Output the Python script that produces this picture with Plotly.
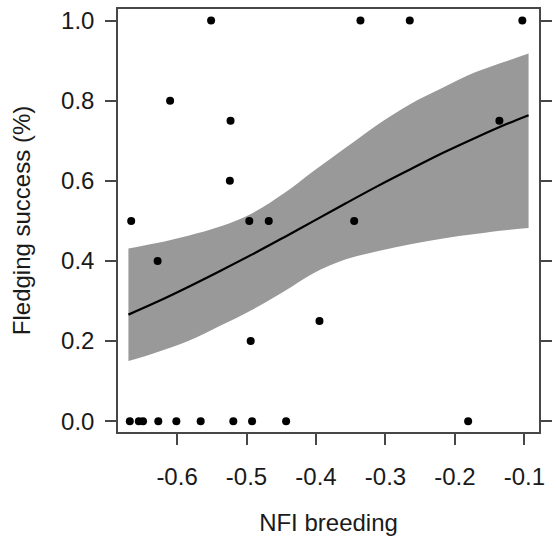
import plotly.graph_objects as go

# Observed data points
pt_x = [-0.551, -0.336, -0.265, -0.103,
        -0.610,
        -0.523, -0.136,
        -0.524,
        -0.666, -0.496, -0.468, -0.345,
        -0.628,
        -0.395,
        -0.494,
        -0.668, -0.655, -0.649, -0.627, -0.601, -0.566, -0.519, -0.492, -0.443, -0.181]
pt_y = [1.0, 1.0, 1.0, 1.0,
        0.8,
        0.75, 0.75,
        0.6,
        0.5, 0.5, 0.5, 0.5,
        0.4,
        0.25,
        0.2,
        0.0, 0.0, 0.0, 0.0, 0.0, 0.0, 0.0, 0.0, 0.0, 0.0]

# Fitted curve and confidence band
fit_x = [-0.670, -0.631, -0.584, -0.538, -0.491, -0.445, -0.403, -0.357, -0.310, -0.264, -0.217, -0.171, -0.124, -0.094]
fit_y = [0.266, 0.296, 0.335, 0.375, 0.417, 0.460, 0.500, 0.544, 0.588, 0.629, 0.670, 0.707, 0.743, 0.764]
upper = [0.431, 0.444, 0.463, 0.486, 0.520, 0.570, 0.625, 0.683, 0.742, 0.792, 0.833, 0.871, 0.900, 0.918]
lower = [0.150, 0.171, 0.200, 0.238, 0.279, 0.325, 0.370, 0.404, 0.425, 0.442, 0.456, 0.467, 0.477, 0.482]

x_ticks = [-0.6, -0.5, -0.4, -0.3, -0.2, -0.1]
x_labels = ["-0.6", "-0.5", "-0.4", "-0.3", "-0.2", "-0.1"]
y_ticks = [0.0, 0.2, 0.4, 0.6, 0.8, 1.0]
y_labels = ["0.0", "0.2", "0.4", "0.6", "0.8", "1.0"]

FONT = "Liberation Sans, Arial, sans-serif"
AX = "#474747"

fig = go.Figure()
fig.add_trace(go.Scatter(x=fit_x, y=lower, mode="lines",
                         line=dict(width=0, shape="spline", color="#999999"),
                         hoverinfo="skip", showlegend=False))
fig.add_trace(go.Scatter(x=fit_x, y=upper, mode="lines", fill="tonexty", fillcolor="#999999",
                         line=dict(width=0, shape="spline", color="#999999"),
                         hoverinfo="skip", showlegend=False))
fig.add_trace(go.Scatter(x=fit_x, y=fit_y, mode="lines", line=dict(color="black", width=2.2),
                         line_shape="spline", showlegend=False))
fig.add_trace(go.Scatter(x=pt_x, y=pt_y, mode="markers",
                         marker=dict(color="black", size=8, line=dict(width=0)), showlegend=False))

fig.update_layout(
    width=556, height=537,
    margin=dict(l=118, r=4, t=9, b=105),
    paper_bgcolor="white", plot_bgcolor="white",
    font=dict(family=FONT, size=24, color="#1a1a1a"),
)
fig.update_xaxes(range=[-0.685, -0.079], tickvals=x_ticks, ticktext=x_labels,
                 showgrid=False, zeroline=False, showline=True, linecolor=AX, linewidth=1.5,
                 mirror=True, ticks="outside", ticklen=11, tickwidth=1.5, tickcolor=AX,
                 ticklabelstandoff=11, tickfont=dict(size=24),
                 title=dict(text="NFI breeding", standoff=26, font=dict(size=24)))
fig.update_yaxes(range=[-0.027, 1.029], tickvals=y_ticks, ticktext=y_labels,
                 showgrid=False, zeroline=False, showline=True, linecolor=AX, linewidth=1.5,
                 mirror="ticks", ticks="outside", ticklen=11, tickwidth=1.5, tickcolor=AX,
                 ticklabelstandoff=6, tickfont=dict(size=24),
                 title=dict(text="Fledging success (%)", standoff=24, font=dict(size=24)))

fig.write_html("out.html")
